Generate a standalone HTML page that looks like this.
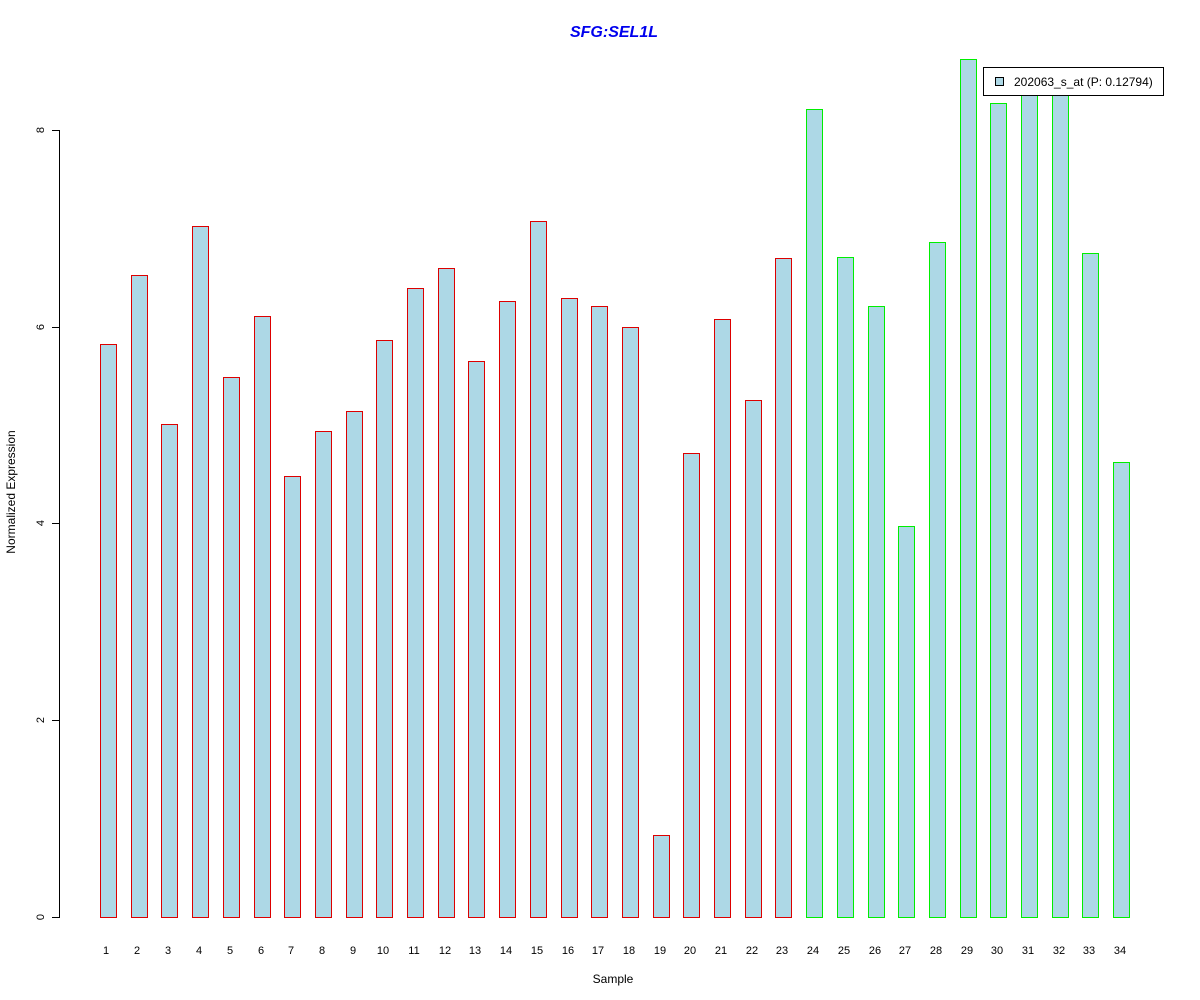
<!DOCTYPE html>
<html><head><meta charset="utf-8"><style>html,body{margin:0;padding:0;background:#fff}svg{display:block}.r{fill:#dd0000}.g{fill:#00ee00}.b{fill:#add8e6}</style></head>
<body>
<svg width="1200" height="1000" xmlns="http://www.w3.org/2000/svg" font-family="Liberation Sans, sans-serif" shape-rendering="crispEdges">
<rect width="1200" height="1000" fill="#fff"/>
<text x="614" y="37" text-anchor="middle" font-size="16" font-weight="bold" font-style="italic" fill="#0000ee">SFG:SEL1L</text>
<text x="613" y="983" text-anchor="middle" font-size="12">Sample</text>
<text transform="translate(15,492) rotate(-90)" text-anchor="middle" font-size="12">Normalized Expression</text>
<rect x="59" y="130" width="1" height="788" fill="#000"/>
<rect x="52" y="130" width="7" height="1" fill="#000"/>
<rect x="52" y="327" width="7" height="1" fill="#000"/>
<rect x="52" y="523" width="7" height="1" fill="#000"/>
<rect x="52" y="720" width="7" height="1" fill="#000"/>
<rect x="52" y="917" width="7" height="1" fill="#000"/>
<g font-size="11" text-anchor="middle">
<text transform="translate(44,917) rotate(-90)">0</text>
<text transform="translate(44,720) rotate(-90)">2</text>
<text transform="translate(44,523) rotate(-90)">4</text>
<text transform="translate(44,327) rotate(-90)">6</text>
<text transform="translate(44,130) rotate(-90)">8</text>
</g>
<g>
<rect class="r" x="100" y="344" width="17" height="574"/><rect class="b" x="101" y="345" width="15" height="572"/>
<rect class="r" x="131" y="275" width="17" height="643"/><rect class="b" x="132" y="276" width="15" height="641"/>
<rect class="r" x="161" y="424" width="17" height="494"/><rect class="b" x="162" y="425" width="15" height="492"/>
<rect class="r" x="192" y="226" width="17" height="692"/><rect class="b" x="193" y="227" width="15" height="690"/>
<rect class="r" x="223" y="377" width="17" height="541"/><rect class="b" x="224" y="378" width="15" height="539"/>
<rect class="r" x="254" y="316" width="17" height="602"/><rect class="b" x="255" y="317" width="15" height="600"/>
<rect class="r" x="284" y="476" width="17" height="442"/><rect class="b" x="285" y="477" width="15" height="440"/>
<rect class="r" x="315" y="431" width="17" height="487"/><rect class="b" x="316" y="432" width="15" height="485"/>
<rect class="r" x="346" y="411" width="17" height="507"/><rect class="b" x="347" y="412" width="15" height="505"/>
<rect class="r" x="376" y="340" width="17" height="578"/><rect class="b" x="377" y="341" width="15" height="576"/>
<rect class="r" x="407" y="288" width="17" height="630"/><rect class="b" x="408" y="289" width="15" height="628"/>
<rect class="r" x="438" y="268" width="17" height="650"/><rect class="b" x="439" y="269" width="15" height="648"/>
<rect class="r" x="468" y="361" width="17" height="557"/><rect class="b" x="469" y="362" width="15" height="555"/>
<rect class="r" x="499" y="301" width="17" height="617"/><rect class="b" x="500" y="302" width="15" height="615"/>
<rect class="r" x="530" y="221" width="17" height="697"/><rect class="b" x="531" y="222" width="15" height="695"/>
<rect class="r" x="561" y="298" width="17" height="620"/><rect class="b" x="562" y="299" width="15" height="618"/>
<rect class="r" x="591" y="306" width="17" height="612"/><rect class="b" x="592" y="307" width="15" height="610"/>
<rect class="r" x="622" y="327" width="17" height="591"/><rect class="b" x="623" y="328" width="15" height="589"/>
<rect class="r" x="653" y="835" width="17" height="83"/><rect class="b" x="654" y="836" width="15" height="81"/>
<rect class="r" x="683" y="453" width="17" height="465"/><rect class="b" x="684" y="454" width="15" height="463"/>
<rect class="r" x="714" y="319" width="17" height="599"/><rect class="b" x="715" y="320" width="15" height="597"/>
<rect class="r" x="745" y="400" width="17" height="518"/><rect class="b" x="746" y="401" width="15" height="516"/>
<rect class="r" x="775" y="258" width="17" height="660"/><rect class="b" x="776" y="259" width="15" height="658"/>
<rect class="g" x="806" y="109" width="17" height="809"/><rect class="b" x="807" y="110" width="15" height="807"/>
<rect class="g" x="837" y="257" width="17" height="661"/><rect class="b" x="838" y="258" width="15" height="659"/>
<rect class="g" x="868" y="306" width="17" height="612"/><rect class="b" x="869" y="307" width="15" height="610"/>
<rect class="g" x="898" y="526" width="17" height="392"/><rect class="b" x="899" y="527" width="15" height="390"/>
<rect class="g" x="929" y="242" width="17" height="676"/><rect class="b" x="930" y="243" width="15" height="674"/>
<rect class="g" x="960" y="59" width="17" height="859"/><rect class="b" x="961" y="60" width="15" height="857"/>
<rect class="g" x="990" y="103" width="17" height="815"/><rect class="b" x="991" y="104" width="15" height="813"/>
<rect class="g" x="1021" y="86" width="17" height="832"/><rect class="b" x="1022" y="87" width="15" height="830"/>
<rect class="g" x="1052" y="86" width="17" height="832"/><rect class="b" x="1053" y="87" width="15" height="830"/>
<rect class="g" x="1082" y="253" width="17" height="665"/><rect class="b" x="1083" y="254" width="15" height="663"/>
<rect class="g" x="1113" y="462" width="17" height="456"/><rect class="b" x="1114" y="463" width="15" height="454"/>
</g>
<g font-size="11" text-anchor="middle">
<text x="106" y="954">1</text><text x="137" y="954">2</text><text x="168" y="954">3</text><text x="199" y="954">4</text><text x="230" y="954">5</text><text x="261" y="954">6</text><text x="291" y="954">7</text><text x="322" y="954">8</text><text x="353" y="954">9</text><text x="383" y="954">10</text><text x="414" y="954">11</text><text x="445" y="954">12</text><text x="475" y="954">13</text><text x="506" y="954">14</text><text x="537" y="954">15</text><text x="568" y="954">16</text><text x="598" y="954">17</text><text x="629" y="954">18</text><text x="660" y="954">19</text><text x="690" y="954">20</text><text x="721" y="954">21</text><text x="752" y="954">22</text><text x="782" y="954">23</text><text x="813" y="954">24</text><text x="844" y="954">25</text><text x="875" y="954">26</text><text x="905" y="954">27</text><text x="936" y="954">28</text><text x="967" y="954">29</text><text x="997" y="954">30</text><text x="1028" y="954">31</text><text x="1059" y="954">32</text><text x="1089" y="954">33</text><text x="1120" y="954">34</text>
</g>
<rect x="983" y="67" width="181" height="29" fill="#000"/>
<rect x="984" y="68" width="179" height="27" fill="#fff"/>
<rect x="995" y="77" width="9" height="9" fill="#000"/>
<rect x="996" y="78" width="7" height="7" fill="#add8e6"/>
<text x="1014" y="86" font-size="12">202063_s_at (P: 0.12794)</text>
</svg>
</body></html>
